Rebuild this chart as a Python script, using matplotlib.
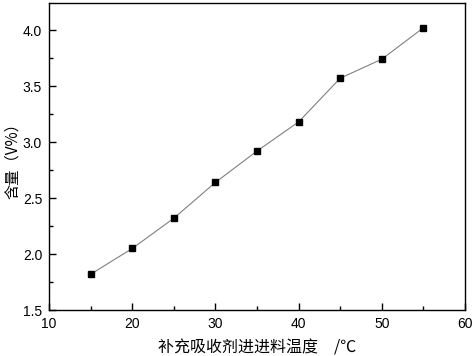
import matplotlib
matplotlib.use('Agg')
import matplotlib.pyplot as plt
from matplotlib.ticker import MultipleLocator

plt.rcParams['font.family'] = ['Liberation Sans', 'Noto Sans CJK SC', 'DejaVu Sans']

# data
temperature = [15, 20, 25, 30, 35, 40, 45, 50, 55]
content = [1.82, 2.05, 2.32, 2.64, 2.92, 3.18, 3.57, 3.74, 4.02]

fig = plt.figure(figsize=(4.72, 3.56), dpi=100)
ax = fig.add_axes([0.104, 0.129, 0.881, 0.862])

ax.plot(temperature, content, color='#808080', linewidth=0.8,
        marker='s', markersize=5, markerfacecolor='black', markeredgecolor='black')

ax.set_xlim(10, 60)
ax.set_ylim(1.5, 4.24)
ax.xaxis.set_major_locator(MultipleLocator(10))
ax.xaxis.set_minor_locator(MultipleLocator(5))
ax.yaxis.set_major_locator(MultipleLocator(0.5))
ax.yaxis.set_minor_locator(MultipleLocator(0.25))
ax.tick_params(which='both', direction='in', labelsize=10, width=1, pad=5)
ax.tick_params(which='major', length=5)
ax.tick_params(which='minor', length=3)
for s in ax.spines.values():
    s.set_linewidth(1)

ax.set_xlabel('补充吸收剂进进料温度　/℃', fontsize=11.5,
              family=['Noto Sans CJK SC', 'DejaVu Sans'], labelpad=6)
ax.set_ylabel('含量（V%）', fontsize=11,
              family=['Noto Sans CJK SC', 'DejaVu Sans'], labelpad=1)

fig.savefig('out.png', dpi=100)
